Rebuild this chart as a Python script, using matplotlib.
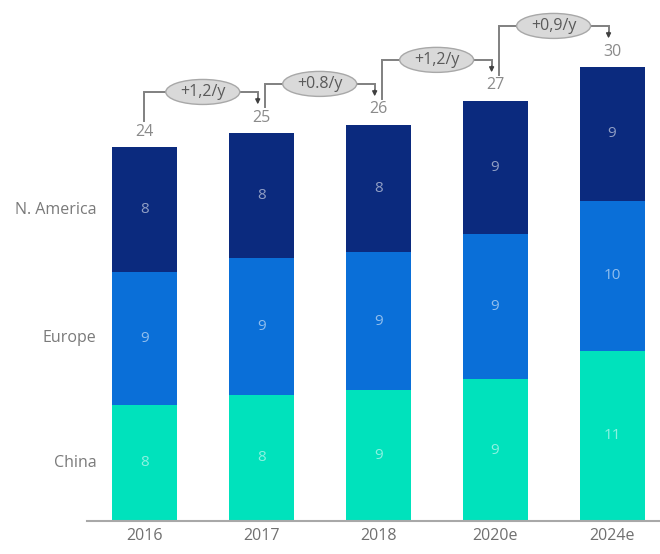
import matplotlib
matplotlib.use("Agg")
import matplotlib.pyplot as plt
from matplotlib.patches import Ellipse
import numpy as np

plt.rcParams['font.family'] = ['Open Sans', 'DejaVu Sans']

years = ["2016", "2017", "2018", "2020e", "2024e"]
series = ["China", "Europe", "N. America"]
china = [7.5, 8.13, 8.45, 9.16, 10.97]
europe = [8.55, 8.84, 8.9, 9.36, 9.68]
namerica = [8.05, 8.06, 8.2, 8.58, 8.64]
china_lbl = ["8", "8", "9", "9", "11"]
europe_lbl = ["9", "9", "9", "9", "10"]
namerica_lbl = ["8", "8", "8", "9", "9"]
total_lbl = ["24", "25", "26", "27", "30"]
growth_lbl = ["+1,2/y", "+0.8/y", "+1,2/y", "+0,9/y"]

colors = ["#00E2BC", "#0A6FD8", "#0B2A7E"]

fig = plt.figure(figsize=(6.6, 5.54), dpi=100)
ax = fig.add_axes([87/660, 1 - 521/554, 1 - 87/660, 521/554])
ax.set_xlim(-0.49, 4.41)
ax.set_ylim(0, 521/15.5)

x = np.arange(len(years))
w = 0.556
vals = [china, europe, namerica]
lbls = [china_lbl, europe_lbl, namerica_lbl]
bottom = np.zeros(len(years))
for v, l, c in zip(vals, lbls, colors):
    v = np.array(v)
    ax.bar(x, v, w, bottom=bottom, color=c, linewidth=0)
    for xi, b, h, t in zip(x, bottom, v, l):
        ax.text(xi, b + h/2, t, ha='center', va='center', fontsize=11,
                color='white', alpha=0.55)
    bottom = bottom + v
tops = bottom

# series labels at left, aligned with first bar segments
b0 = 0
for name, v in zip(series, vals):
    ax.text(-0.41, b0 + v[0]/2, name, ha='right', va='center', fontsize=11.5,
            color='#7a7a7a', clip_on=False)
    b0 += v[0]

for xi, t, lab in zip(x, tops, total_lbl):
    ax.text(xi, t + 1.0, lab, ha='center', va='center', fontsize=11.5, color='#8a8a8a')

# growth brackets
for i, g in enumerate(growth_lbl):
    x0 = x[i] - 0.005 if i == 0 else x[i] + 0.035
    x1 = x[i+1] - 0.03
    y0 = tops[i] + 1.7
    y1 = tops[i+1] + 1.85
    yl = max(tops[i], tops[i+1]) + 2.65
    ax.plot([x0, x0, x1, x1], [y0, yl, yl, y1 + 0.25], color='#808080', lw=1.4,
            solid_joinstyle='miter', zorder=3)
    ax.annotate('', xy=(x1, y1), xytext=(x1, y1 + 0.4),
                arrowprops=dict(arrowstyle='-|>', color='#404040', lw=1.0,
                                mutation_scale=7, shrinkA=0, shrinkB=0), zorder=4)
    xm = (x[i] + x[i+1]) / 2
    e = Ellipse((xm, yl), 74/117, 25/15.5, facecolor='#D9D9D9', edgecolor='#A8A8A8',
                lw=1.0, zorder=5)
    ax.add_patch(e)
    ax.text(xm, yl, g, ha='center', va='center', fontsize=11.5, color='#5a5a5a', zorder=6)

for s in ['top', 'right', 'left']:
    ax.spines[s].set_visible(False)
ax.spines['bottom'].set_color('#A8A8A8')
ax.spines['bottom'].set_linewidth(1.5)
ax.set_yticks([])
ax.set_xticks(x)
ax.set_xticklabels(years, fontsize=11.5, color='#707070')
ax.tick_params(axis='x', length=0, pad=5)

fig.savefig("out.png", dpi=100)
